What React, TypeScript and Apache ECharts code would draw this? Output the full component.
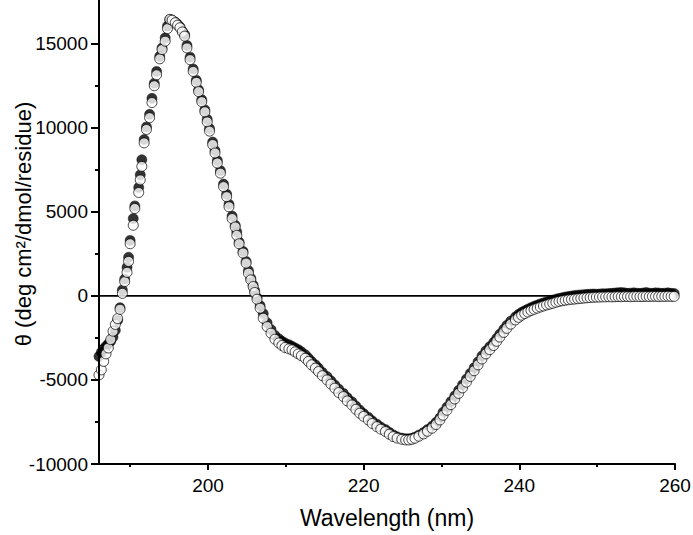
import { useEffect, useRef } from "react";
import * as echarts from "echarts";

const X_MIN = 186;
const X_MAX = 260;
const Y_MIN = -10000;
const Y_MAX = 17600;
const xMajorTicks = [200, 220, 240, 260];
const xMinorTicks = [190, 210, 230, 250];
const yMajorTicks = [-10000, -5000, 0, 5000, 10000, 15000];
const yMinorTicks = [-7500, -2500, 2500, 7500, 12500];
const xTitle = "Wavelength (nm)";
const yTitle = "θ (deg cm²/dmol/residue)";

// open circles (wavelength nm, theta)
const openCircles: [number, number][] = [
  [186.0, -4700], [186.3, -4400], [186.6, -3900], [186.9, -3450], [187.2, -3100], [187.5, -2600],
  [187.8, -2100], [188.1, -1700], [188.4, -1350], [188.7, -800], [189.0, 150], [189.3, 850],
  [189.6, 1400], [189.8, 2050], [190.0, 3100], [190.4, 4200], [190.6, 5200], [191.1, 6150],
  [191.3, 6900], [191.5, 7700], [191.8, 9100], [192.1, 9900], [192.5, 10600], [192.8, 11500],
  [193.1, 12500], [193.4, 13150], [193.8, 14100], [194.1, 14650], [194.5, 15150], [194.8, 15900],
  [195.1, 16450], [195.4, 16400], [195.8, 16250], [196.1, 16100], [196.4, 15950], [196.7, 15700],
  [197.0, 15450], [197.3, 14750], [197.7, 14050], [198.1, 13350], [198.5, 12700], [198.8, 12150],
  [199.2, 11550], [199.6, 10950], [199.9, 10350], [200.2, 9800], [200.6, 9000], [200.9, 8500],
  [201.2, 7900], [201.6, 7300], [202.0, 6500], [202.4, 5900], [202.7, 5300], [203.1, 4600],
  [203.5, 4100], [203.7, 3600], [204.0, 3100], [204.5, 2550], [204.9, 1950], [205.2, 1350],
  [205.5, 950], [205.8, 550], [206.0, 200], [206.3, -200], [206.7, -730], [207.1, -1330],
  [207.6, -1830], [208.1, -2220], [208.6, -2580], [209.1, -2800], [209.5, -2950], [209.9, -3070],
  [210.4, -3150], [210.8, -3210], [211.2, -3330], [211.6, -3450], [212.0, -3560], [212.5, -3710],
  [212.9, -3900], [213.3, -4100], [213.8, -4300], [214.2, -4500], [214.7, -4750], [215.3, -5000],
  [215.8, -5250], [216.3, -5490], [216.8, -5750], [217.4, -5990], [217.9, -6250], [218.5, -6490],
  [219.0, -6750], [219.5, -6980], [220.0, -7170], [220.6, -7380], [221.1, -7590], [221.7, -7780],
  [222.2, -7930], [222.8, -8070], [223.3, -8230], [223.8, -8370], [224.3, -8460], [224.9, -8530],
  [225.4, -8570], [225.8, -8570], [226.2, -8530], [226.6, -8470], [227.1, -8350], [227.7, -8210],
  [228.2, -8050], [228.8, -7870], [229.3, -7650], [229.8, -7380], [230.2, -7100], [230.7, -6800],
  [231.2, -6470], [231.7, -6130], [232.2, -5800], [232.7, -5470], [233.2, -5130], [233.7, -4790],
  [234.2, -4450], [234.7, -4100], [235.2, -3750], [235.7, -3450], [236.2, -3200], [236.7, -2950],
  [237.1, -2700], [237.5, -2450], [238.0, -2170], [238.4, -1930], [238.9, -1680], [239.5, -1430],
  [239.9, -1280], [240.3, -1150], [240.7, -1050], [241.1, -960], [241.5, -870], [241.9, -800],
  [242.3, -730], [242.7, -660], [243.1, -600], [243.5, -540], [243.9, -490], [244.3, -440],
  [244.7, -380], [245.1, -330], [245.5, -290], [245.9, -260], [246.3, -230], [246.7, -210],
  [247.1, -190], [247.5, -170], [247.9, -150], [248.3, -130], [248.7, -115], [249.1, -100],
  [249.5, -85], [249.9, -75], [250.3, -70], [250.7, -60], [251.1, -60], [251.5, -50],
  [251.9, -60], [252.3, -50], [252.7, -40], [253.1, -50], [253.5, -40], [253.9, -40],
  [254.3, -50], [254.7, -40], [255.1, -30], [255.5, -40], [255.9, -40], [256.3, -30],
  [256.7, -40], [257.1, -30], [257.5, -30], [257.9, -40], [258.3, -30], [258.7, -30],
  [259.1, -20], [259.5, -30], [259.9, -30],
];

// filled circles (wavelength nm, theta)
const filledCircles: [number, number][] = [
  [186.0, -3600], [186.3, -3350], [186.6, -3150], [186.9, -3000], [187.2, -2850], [187.5, -2700],
  [187.8, -2450], [188.1, -2050], [188.4, -1450], [188.7, -700], [189.0, 350], [189.3, 1000],
  [189.6, 1700], [189.8, 2300], [190.0, 3300], [190.4, 4600], [190.6, 5350], [191.1, 6450],
  [191.3, 7200], [191.5, 8100], [191.8, 9300], [192.1, 10050], [192.5, 10800], [192.8, 11750],
  [193.1, 12650], [193.4, 13350], [193.8, 14250], [194.1, 14750], [194.5, 15350], [194.8, 16050],
  [195.1, 16430], [195.4, 16400], [195.8, 16280], [196.1, 16150], [196.4, 16000], [196.7, 15750],
  [197.0, 15550], [197.3, 14900], [197.7, 14200], [198.1, 13500], [198.5, 12830], [198.8, 12250],
  [199.2, 11670], [199.6, 11070], [199.9, 10500], [200.2, 9950], [200.6, 9150], [200.9, 8650],
  [201.2, 8050], [201.6, 7450], [202.0, 6650], [202.4, 6050], [202.7, 5450], [203.1, 4750],
  [203.5, 4200], [203.7, 3800], [204.0, 3200], [204.5, 2650], [204.9, 2050], [205.2, 1500],
  [205.5, 1050], [205.8, 650], [206.0, 300], [206.3, -100], [206.7, -580], [207.1, -1050],
  [207.6, -1600], [208.1, -2000], [208.6, -2350], [209.1, -2550], [209.5, -2700], [209.9, -2800],
  [210.4, -2900], [210.8, -3000], [211.2, -3100], [211.6, -3200], [212.0, -3330], [212.5, -3500],
  [212.9, -3700], [213.3, -3900], [213.8, -4100], [214.2, -4300], [214.7, -4550], [215.3, -4800],
  [215.8, -5050], [216.3, -5300], [216.8, -5550], [217.4, -5800], [217.9, -6050], [218.5, -6300],
  [219.0, -6550], [219.5, -6800], [220.0, -7000], [220.6, -7220], [221.1, -7430], [221.7, -7630],
  [222.2, -7800], [222.8, -7950], [223.3, -8120], [223.8, -8270], [224.3, -8380], [224.9, -8460],
  [225.4, -8500], [225.8, -8500], [226.2, -8470], [226.6, -8400], [227.1, -8280], [227.7, -8120],
  [228.2, -7950], [228.8, -7750], [229.3, -7520], [229.8, -7250], [230.2, -6920], [230.7, -6620],
  [231.2, -6290], [231.7, -5950], [232.2, -5620], [232.7, -5290], [233.2, -4950], [233.7, -4610],
  [234.2, -4270], [234.7, -3920], [235.2, -3570], [235.7, -3270], [236.2, -3020], [236.7, -2770],
  [237.1, -2520], [237.5, -2270], [238.0, -1990], [238.4, -1750], [238.9, -1500], [239.5, -1250],
  [239.9, -1100], [240.3, -980], [240.7, -880], [241.1, -790], [241.5, -700], [241.9, -620],
  [242.3, -550], [242.7, -480], [243.1, -420], [243.5, -360], [243.9, -300], [244.3, -250],
  [244.7, -200], [245.1, -150], [245.5, -110], [245.9, -70], [246.3, -40], [246.7, -10],
  [247.1, 20], [247.5, 40], [247.9, 60], [248.3, 70], [248.7, 90], [249.1, 100],
  [249.5, 110], [249.9, 100], [250.3, 110], [250.7, 130], [251.1, 120], [251.5, 140],
  [251.9, 150], [252.3, 170], [252.7, 190], [253.1, 200], [253.5, 180], [253.9, 150],
  [254.3, 160], [254.7, 180], [255.1, 160], [255.5, 150], [255.9, 170], [256.3, 200],
  [256.7, 160], [257.1, 150], [257.5, 180], [257.9, 170], [258.3, 150], [258.7, 160],
  [259.1, 180], [259.5, 150], [259.9, 140],
];

const zeroLine: [number, number][] = [
  [X_MIN, 0],
  [X_MAX, 0],
];

const FONT = "'Liberation Sans', Arial, Helvetica, sans-serif";

export default function App() {
  const ref = useRef<HTMLDivElement>(null);

  useEffect(() => {
    if (!ref.current) return;
    const chart = echarts.init(ref.current, null, { renderer: "svg" });
    const line = () => ({ color: "#000", width: 2, opacity: 1 });
    chart.setOption({
      animation: false,
      backgroundColor: "#fff",
      grid: { left: 99, right: 18, top: 0, bottom: 71, containLabel: false, outerBoundsMode: "none" },
      xAxis: [
        {
          type: "value",
          min: X_MIN,
          max: X_MAX,
          position: "bottom",
          z: 5,
          axisLine: { show: true, onZero: false, lineStyle: line() },
          axisTick: { show: true, length: 6, lineStyle: line(), customValues: xMajorTicks },
          axisLabel: {
            customValues: xMajorTicks,
            color: "#000",
            fontSize: 19,
            fontFamily: FONT,
            margin: 12,
          },
          splitLine: { show: false },
        },
        {
          type: "value",
          min: X_MIN,
          max: X_MAX,
          position: "bottom",
          offset: 0,
          z: 5,
          axisLine: { show: false, onZero: false },
          axisTick: { show: true, length: 3, lineStyle: line(), customValues: xMinorTicks },
          axisLabel: { show: false },
          splitLine: { show: false },
        },
      ],
      yAxis: [
        {
          type: "value",
          min: Y_MIN,
          max: Y_MAX,
          position: "left",
          z: 5,
          axisLine: { show: true, onZero: false, lineStyle: line() },
          axisTick: { show: true, length: 8, lineStyle: line(), customValues: yMajorTicks },
          axisLabel: {
            customValues: yMajorTicks,
            color: "#000",
            fontSize: 19,
            fontFamily: FONT,
            margin: 11,
            formatter: (v: number) => String(Math.round(v)),
          },
          splitLine: { show: false },
        },
        {
          type: "value",
          min: Y_MIN,
          max: Y_MAX,
          position: "left",
          offset: 0,
          z: 5,
          axisLine: { show: false, onZero: false },
          axisTick: { show: true, length: 4, lineStyle: line(), customValues: yMinorTicks },
          axisLabel: { show: false },
          splitLine: { show: false },
        },
      ],
      graphic: [
        {
          type: "text",
          x: 387,
          y: 518,
          style: {
            text: xTitle,
            fill: "#000",
            fontSize: 23,
            fontFamily: FONT,
            align: "center",
            verticalAlign: "middle",
          },
        },
        {
          type: "text",
          x: 23,
          y: 224,
          rotation: Math.PI / 2,
          style: {
            text: yTitle,
            fill: "#000",
            fontSize: 22,
            fontFamily: FONT,
            align: "center",
            verticalAlign: "middle",
          },
        },
      ],
      series: [
        {
          type: "line",
          data: zeroLine,
          symbol: "none",
          silent: true,
          z: 1,
          lineStyle: { color: "#000", width: 1.6 },
        },
        {
          type: "scatter",
          data: filledCircles,
          symbol: "circle",
          symbolSize: 10,
          silent: true,
          z: 2,
          itemStyle: { color: "#000", borderColor: "#000", borderWidth: 0.6 },
        },
        {
          type: "scatter",
          data: openCircles,
          symbol: "circle",
          symbolSize: 10,
          silent: true,
          z: 3,
          itemStyle: { color: "#fff", borderColor: "#000", borderWidth: 0.9 },
        },
      ],
    });
    return () => chart.dispose();
  }, []);

  return (
    <div
      ref={ref}
      style={{ position: "fixed", left: 0, top: 0, width: 693, height: 535, background: "#fff" }}
    />
  );
}
